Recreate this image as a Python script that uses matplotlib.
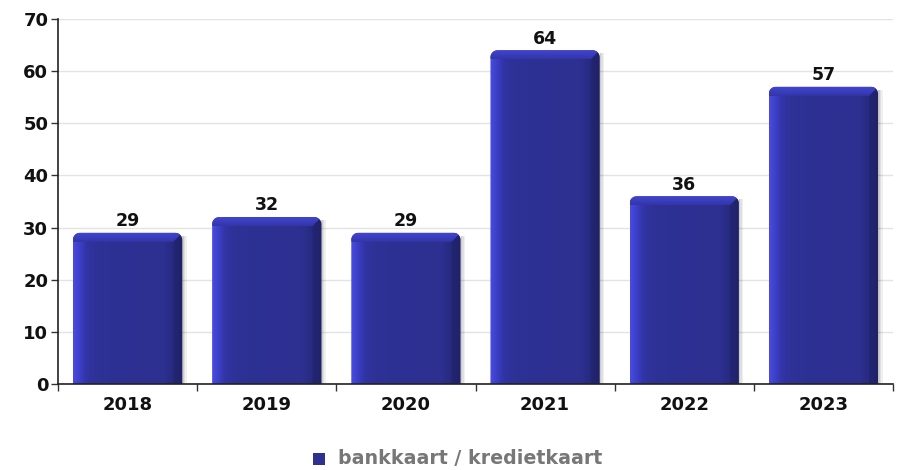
import numpy as np
import matplotlib
matplotlib.use("Agg")
import matplotlib.pyplot as plt
from matplotlib.patches import Polygon, Rectangle
from matplotlib.colors import LinearSegmentedColormap

years = ["2018", "2019", "2020", "2021", "2022", "2023"]
values = [29, 32, 29, 64, 36, 57]
series_name = "bankkaart / kredietkaart"
y_ticks = [0, 10, 20, 30, 40, 50, 60, 70]

W, H = 901, 470
fig = plt.figure(figsize=(W / 100, H / 100), dpi=100)
ax = fig.add_axes([58 / W, 1 - 384 / H, (893 - 58) / W, (384 - 19) / H])

ax.set_xlim(0, len(years))
ax.set_ylim(0, 70)

# pixel -> data scale
px_x = len(years) / (893 - 58)
px_y = 70 / (384 - 19)

body_cmap = LinearSegmentedColormap.from_list(
    "body",
    [(0.0, "#4b4be2"), (0.05, "#3e41cc"), (0.12, "#3134a4"), (0.22, "#2e3195"),
     (0.82, "#2d3090"), (0.92, "#272a7e"), (1.0, "#202268")])
top_cmap = LinearSegmentedColormap.from_list("top", ["#3336a6", "#4144d2"])
hgrad = np.linspace(0, 1, 256).reshape(1, -1)
vgrad = np.linspace(0, 1, 64).reshape(-1, 1)

bar_w = 0.785
bx = 9 * px_x
by = 9 * px_y
rx = 7 * px_x
ry = 7 * px_y


def corner_arc(cx, cy, a0, a1, n=12):
    t = np.radians(np.linspace(a0, a1, n))
    return list(zip(cx + rx * np.cos(t), cy + ry * np.sin(t)))


for i, v in enumerate(values):
    x0 = i + 0.5 - bar_w / 2
    x1 = x0 + bar_w
    left_arc = corner_arc(x0 + rx, v - ry, 180, 90)
    right_arc = corner_arc(x1 - rx, v - ry, 90, 0)
    # soft shadow on the right side
    for k, a in enumerate([0.20, 0.12, 0.06]):
        ax.add_patch(Rectangle((x1 + k * 1.5 * px_x, 0), 1.5 * px_x, v - 3 * px_y,
                               facecolor="#000000", alpha=a, lw=0, zorder=2))
    # bar outline with rounded top corners
    body = Polygon([(x0, 0)] + left_arc + right_arc + [(x1, 0)], closed=True,
                   facecolor="none", edgecolor="none", zorder=3)
    ax.add_patch(body)
    im = ax.imshow(hgrad, cmap=body_cmap, aspect="auto",
                   extent=(x0, x1, 0, v), zorder=3, interpolation="bilinear")
    im.set_clip_path(body)
    # right bevel (dark)
    right = Polygon([(x1 - bx, v - by)] + corner_arc(x1 - rx, v - ry, 45, 0) + [(x1, 0), (x1 - bx, 0)],
                    closed=True, facecolor="#1f2168", edgecolor="none", zorder=4, alpha=0.45)
    ax.add_patch(right)
    # top bevel (light, vertical gradient)
    top = Polygon([(x0 + bx, v - by)] + corner_arc(x0 + rx, v - ry, 225, 90)
                  + corner_arc(x1 - rx, v - ry, 90, 45) + [(x1 - bx, v - by)],
                  closed=True, facecolor="none", edgecolor="none", zorder=4)
    ax.add_patch(top)
    tim = ax.imshow(vgrad, cmap=top_cmap, aspect="auto", origin="lower",
                    extent=(x0, x1, v - by, v), zorder=4, interpolation="bilinear")
    tim.set_clip_path(top)
    ax.annotate(str(v), (i + 0.5, v), xytext=(0, 2), textcoords="offset points",
                ha="center", va="bottom", fontsize=12.5, fontweight="bold",
                color="#111111", zorder=5)

# axes styling
ax.set_yticks(y_ticks)
ax.set_yticklabels([str(t) for t in y_ticks], fontsize=13, fontweight="bold", color="#111111")
ax.set_xticks(np.arange(len(years)) + 0.5)
ax.set_xticklabels(years, fontsize=13, fontweight="bold", color="#111111")
ax.set_xticks(np.arange(len(years) + 1), minor=True)
ax.tick_params(axis="x", which="major", length=0, pad=9)
ax.tick_params(axis="x", which="minor", length=5, width=1, color="#333333", direction="out")
ax.tick_params(axis="y", length=5, width=1, color="#333333", pad=2)
ax.grid(axis="y", color="#e3e3e3", lw=1, zorder=0)
ax.set_axisbelow(True)
for s in ["top", "right"]:
    ax.spines[s].set_visible(False)
for s in ["left", "bottom"]:
    ax.spines[s].set_color("#222222")
    ax.spines[s].set_linewidth(1.2)
    ax.spines[s].set_zorder(6)

# legend
fig.patches.append(Rectangle((313 / W, 1 - 465 / H), 12 / W, 12 / H,
                             transform=fig.transFigure, facecolor="#2e3192",
                             edgecolor="none"))
fig.text(338 / W, 1 - 459 / H, series_name, ha="left", va="center",
         fontsize=13.7, fontweight="bold", color="#777777")

fig.savefig("out.png", dpi=100)
